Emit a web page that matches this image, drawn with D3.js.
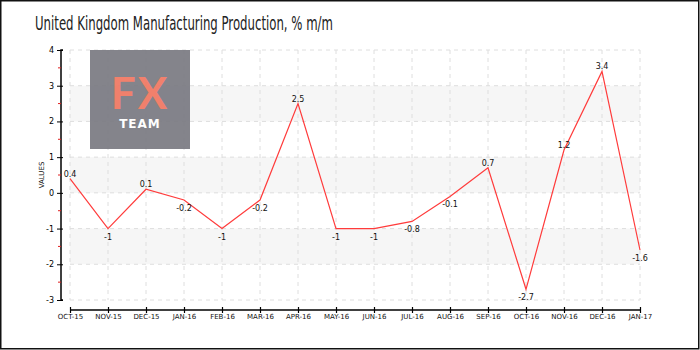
<!DOCTYPE html>
<html>
<head>
    <meta charset="utf-8">
    <script src="https://cdn.jsdelivr.net/npm/d3@7"></script>
    <style>
        body { margin: 0; background: #fff; }
        text { font-family: 'DejaVu Sans', sans-serif; }
    </style>
</head>

<body>
<div id="chart"></div>

<script>

    var months = ['OCT-15', 'NOV-15', 'DEC-15', 'JAN-16', 'FEB-16', 'MAR-16', 'APR-16', 'MAY-16',
                  'JUN-16', 'JUL-16', 'AUG-16', 'SEP-16', 'OCT-16', 'NOV-16', 'DEC-16', 'JAN-17'];
    var values = [0.4, -1, 0.1, -0.2, -1, -0.2, 2.5, -1, -1, -0.8, -0.1, 0.7, -2.7, 1.2, 3.4, -1.6];
    var yTicks = [-3, -2, -1, 0, 1, 2, 3, 4];
    var bands = [[2, 3], [0, 1], [-2, -1]];
    var title = 'United Kingdom Manufacturing Production, % m/m';

    var width = 700, height = 350;
    var padding = { top: 50, right: 60, bottom: 50, left: 70 };

    var svg = d3.select('#chart').append('svg')
        .attr('width', width)
        .attr('height', height);

    // frame
    svg.append('rect')
        .attr('x', 0.75).attr('y', 0.75)
        .attr('width', width - 2).attr('height', height - 2)
        .attr('fill', '#fff')
        .attr('stroke', '#111')
        .attr('stroke-width', 1.5);

    svg.append('text')
        .attr('x', 35)
        .attr('y', 30)
        .attr('font-size', 20)
        .attr('fill', '#222')
        .attr('textLength', 298)
        .attr('lengthAdjust', 'spacingAndGlyphs')
        .style('font-family', "'DejaVu Sans Condensed', 'DejaVu Sans', sans-serif")
        .style('font-weight', 300)
        .text(title);

    var xScale = d3.scalePoint()
        .domain(months)
        .range([padding.left, width - padding.right]);

    var yScale = d3.scaleLinear()
        .domain([-3, 4])
        .range([300, 50]);

    var x0 = xScale.range()[0], x1 = xScale.range()[1];

    // shaded bands
    svg.selectAll('rect.band')
        .data(bands)
        .enter()
        .append('rect')
        .attr('class', 'band')
        .attr('x', x0)
        .attr('width', x1 - x0)
        .attr('y', function(d) { return yScale(d[1]); })
        .attr('height', function(d) { return yScale(d[0]) - yScale(d[1]); })
        .attr('fill', '#f6f6f6');

    // grid
    svg.selectAll('line.hgrid')
        .data(yTicks)
        .enter()
        .append('line')
        .attr('class', 'hgrid')
        .attr('x1', x0).attr('x2', x1)
        .attr('y1', function(d) { return yScale(d); })
        .attr('y2', function(d) { return yScale(d); })
        .attr('stroke', '#dedede')
        .attr('stroke-dasharray', '4,4');

    svg.selectAll('line.vgrid')
        .data(months)
        .enter()
        .append('line')
        .attr('class', 'vgrid')
        .attr('x1', function(d) { return xScale(d); })
        .attr('x2', function(d) { return xScale(d); })
        .attr('y1', yScale(4)).attr('y2', yScale(-3))
        .attr('stroke', '#dedede')
        .attr('stroke-dasharray', '4,4');

    // logo
    var logo = svg.append('g').attr('opacity', 0.93);
    logo.append('rect')
        .attr('x', 90).attr('y', 50)
        .attr('width', 100).attr('height', 99)
        .attr('fill', '#7b7b83');
    logo.append('text')
        .attr('x', 140).attr('y', 109)
        .attr('text-anchor', 'middle')
        .attr('font-size', 44)
        .attr('font-weight', 'bold')
        .attr('letter-spacing', 2)
        .attr('fill', '#f07862')
        .style('font-family', "'Lato', sans-serif")
        .text('FX');
    logo.append('text')
        .attr('x', 140).attr('y', 128)
        .attr('text-anchor', 'middle')
        .attr('font-size', 12)
        .attr('font-weight', 'bold')
        .attr('letter-spacing', 1)
        .attr('fill', '#fff')
        .text('TEAM');

    // y axis
    var yAxis = svg.append('g')
        .attr('transform', 'translate(61,0)')
        .call(d3.axisLeft(yScale).tickValues(yTicks).tickSize(4).tickFormat(function(d) { return String(d); }));
    yAxis.select('.domain').attr('stroke', '#000').attr('stroke-width', 1.5)
        .attr('d', 'M2,' + yScale(4) + 'H0V' + yScale(-3) + 'H2');
    yAxis.selectAll('.tick line').attr('x2', -4).attr('x1', 2);
    yAxis.selectAll('.tick text')
        .attr('font-size', 8)
        .attr('x', -7)
        .style('font-family', "'DejaVu Sans', sans-serif");

    // minor red ticks
    svg.selectAll('line.minor')
        .data(yTicks.slice(0, -1))
        .enter()
        .append('line')
        .attr('class', 'minor')
        .attr('x1', 58).attr('x2', 61)
        .attr('y1', function(d) { return yScale(d + 0.5); })
        .attr('y2', function(d) { return yScale(d + 0.5); })
        .attr('stroke', '#e02020');

    svg.append('text')
        .attr('transform', 'translate(44,175) rotate(-90)')
        .attr('text-anchor', 'middle')
        .attr('font-size', 7)
        .attr('fill', '#111')
        .text('VALUES');

    // x axis
    var xAxis = svg.append('g')
        .attr('transform', 'translate(0,310)')
        .call(d3.axisBottom(xScale).tickSize(3).tickSizeOuter(0));
    xAxis.select('.domain').attr('stroke', '#000').attr('stroke-width', 1.5)
        .attr('d', 'M' + x0 + ',0H' + x1);
    xAxis.selectAll('.tick line').attr('y1', -3).attr('y2', 3).attr('stroke-width', 1.2);
    xAxis.selectAll('.tick text')
        .attr('font-size', 7)
        .attr('y', 4)
        .attr('fill', '#111')
        .style('font-family', "'DejaVu Sans', sans-serif");

    // line
    var line = d3.line()
        .x(function(d, i) { return xScale(months[i]); })
        .y(function(d) { return yScale(d); });

    svg.append('path')
        .datum(values)
        .attr('fill', 'none')
        .attr('stroke', '#ff3b3b')
        .attr('stroke-width', 1.2)
        .attr('d', line);

    // value labels
    svg.selectAll('text.val')
        .data(values)
        .enter()
        .append('text')
        .attr('class', 'val')
        .attr('x', function(d, i) { return xScale(months[i]); })
        .attr('y', function(d) { return yScale(d) + (d >= 0 ? -2 : 11); })
        .attr('text-anchor', 'middle')
        .attr('font-size', 8)
        .attr('fill', '#111')
        .text(function(d) { return d; });

</script>
</body>
</html>
